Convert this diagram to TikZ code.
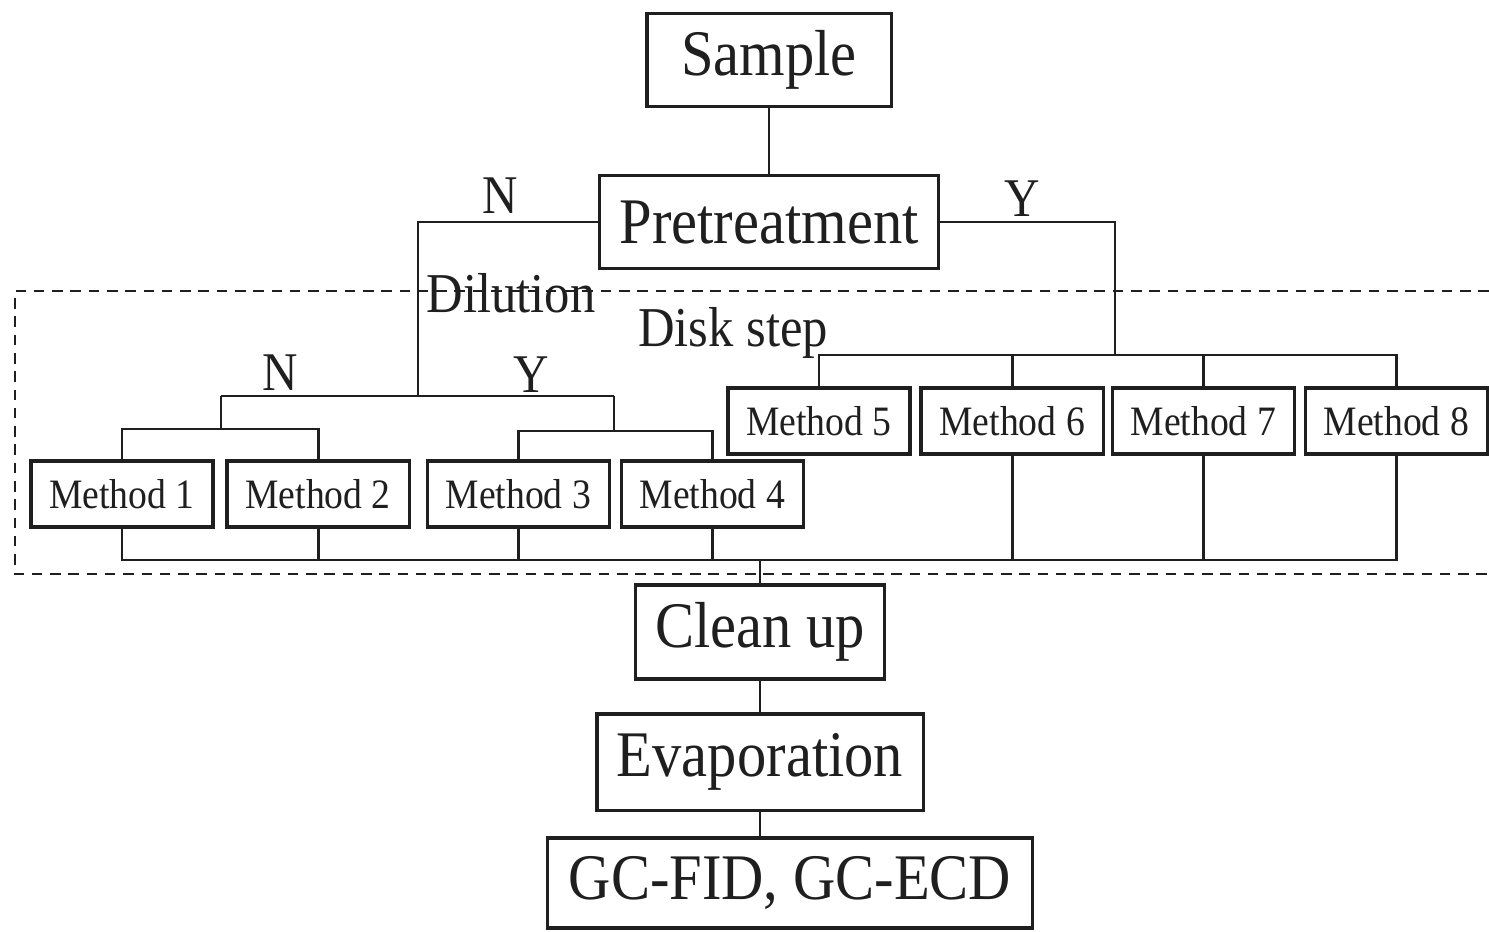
\documentclass[tikz,border=0pt]{standalone}
\usepackage{fontspec}
\newfontfamily\scanfont[FakeStretch=0.9]{Liberation Serif}
\usetikzlibrary{positioning}
\newcommand{\stagetxt}{\scanfont\fontsize{18.5}{20}\selectfont}
\newcommand{\methtxt}{\scanfont\fontsize{11.9}{13}\selectfont}
\newcommand{\branchtxt}{\scanfont\fontsize{15.5}{17}\selectfont}
\newcommand{\steptxt}{\scanfont\fontsize{16}{18}\selectfont}

\begin{document}
\begin{tikzpicture}[
      x=0.01cm, y=-0.01cm,
      box/.style={draw=black!88, line width=0.9pt, inner sep=0pt, outer sep=0pt,
                  align=center, text=black!88},
      stage/.style={box, font=\stagetxt, minimum height=0.93cm},
      meth/.style={box, font=\methtxt, minimum width=1.82cm, minimum height=0.66cm},
      lbl/.style={font=\branchtxt, inner sep=0pt, text=black!88},
      link/.style={draw=black!88, line width=0.8pt},
      zone/.style={draw=black!88, line width=0.85pt, dash pattern=on 3pt off 2.2pt}
    ]
    \useasboundingbox (0,0) rectangle (1489,931);

    % main chain
    \node[stage, minimum width=2.44cm] (sample) at (769,60) {Sample};
    \node[stage, minimum width=3.38cm, below=0.69cm of sample] (pre) {Pretreatment};
    \node[stage, minimum width=2.49cm, minimum height=0.94cm] (clean) at (760,632) {Clean up};
    \node[stage, minimum width=3.26cm, minimum height=0.96cm,
          below=0.35cm of clean] (evap) {Evaporation};
    \node[stage, minimum width=4.84cm, minimum height=0.9cm] (gc) at (790,883)
      {GC-FID, GC-ECD};

    % extraction zone
    \draw[zone] (1489,291) -- (15,291) -- (15,574) -- (1489,574);

    % dilution methods
    \node[meth] (m1) at (122,494) {Method 1};
    \node[meth, right=0.14cm of m1] (m2) {Method 2};
    \node[meth, right=0.18cm of m2] (m3) {Method 3};
    \node[meth, right=0.12cm of m3] (m4) {Method 4};

    % disk step methods
    \node[meth] (m5) at (819,421) {Method 5};
    \node[meth, right=0.11cm of m5] (m6) {Method 6};
    \node[meth, right=0.09cm of m6] (m7) {Method 7};
    \node[meth, right=0.11cm of m7] (m8) {Method 8};

    % branch points
    \coordinate (dil) at (418,396);
    \coordinate (dilN) at (221,396);
    \coordinate (dilY) at (614,396);
    \coordinate (splitN) at (221,429);
    \coordinate (splitY) at (614,431);
    \coordinate (disk) at (1115,355);
    \coordinate (bus) at (760,560);

    % labels
    \node[lbl] (preN) at (500,196) {N};
    \node[lbl] (preY) at (1022,199) {Y};
    \node[lbl] (dilNl) at (280,373) {N};
    \node[lbl] (dilYl) at (531,375) {Y};
    \node[lbl, font=\steptxt] (dilution) at (511,293) {Dilution};
    \node[lbl, font=\steptxt] (diskstep) at (733,333) {Disk step};

    % connectors
    \draw[link] (sample) -- (pre);
    \draw[link] (pre.west) -| (dil);
    \draw[link] (pre.east) -| (disk);
    \draw[link] (dilN) -- (dilY);
    \draw[link] (dilN) -- (splitN);
    \draw[link] (dilY) -- (splitY);
    \draw[link] (m1.north) |- (splitN) -| (m2.north);
    \draw[link] (m3.north) |- (splitY) -| (m4.north);
    \draw[link] (m5.north) |- (disk) -| (m8.north);
    \draw[link] (m6.north) -- (m6.north |- disk);
    \draw[link] (m7.north) -- (m7.north |- disk);

    \draw[link] (m1.south) |- (bus) -| (m8.south);
    \draw[link] (m2.south) -- (m2.south |- bus);
    \draw[link] (m3.south) -- (m3.south |- bus);
    \draw[link] (m4.south) -- (m4.south |- bus);
    \draw[link] (m6.south) -- (m6.south |- bus);
    \draw[link] (m7.south) -- (m7.south |- bus);
    \draw[link] (bus) -- (clean.north);
    \draw[link] (clean) -- (evap);
    \draw[link] (evap.south) -- (evap.south |- gc.north);
  \end{tikzpicture}
\end{document}
